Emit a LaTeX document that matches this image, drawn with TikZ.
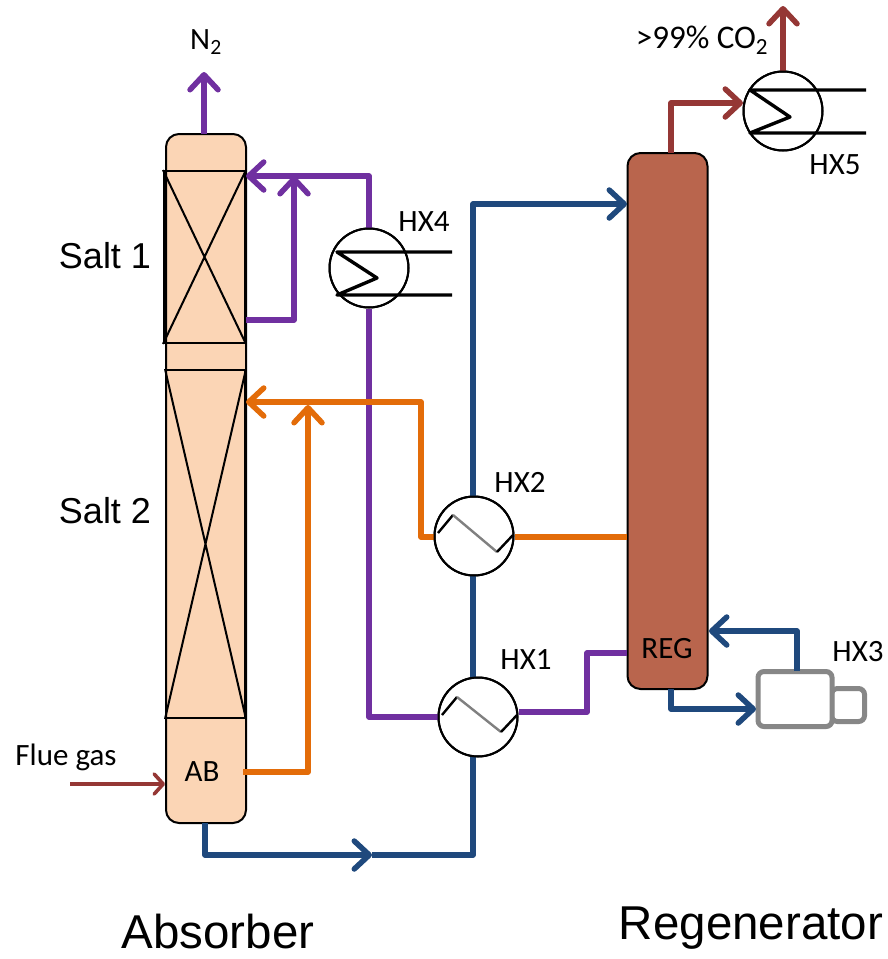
\documentclass[tikz,border=0pt]{standalone}
\usepackage{fontspec}
\setmainfont{Carlito}
\newfontfamily\bigfont{Liberation Sans}
\usetikzlibrary{arrows.meta,calc}
\definecolor{cpurple}{HTML}{7030A0}
\definecolor{corange}{HTML}{E36C09}
\definecolor{cblue}{HTML}{1F497D}
\definecolor{cred}{HTML}{953735}
\definecolor{cabs}{HTML}{FBD5B5}
\definecolor{creg}{HTML}{B9654D}
\tikzset{
  pipe/.style={line width=5.5pt,line join=round},
  tip/.style={-{Straight Barb[length=15pt,width=28pt,line width=5.5pt,round]}},
  hxc/.style={circle,draw=black,line width=2pt,fill=white,minimum size=79pt,inner sep=0pt},
  column/.style={draw=black,line width=2pt,rounded corners=13pt,minimum width=80pt,inner sep=0pt},
  pack/.style={draw=black,line width=2pt,inner sep=0pt},
  coil/.style={line width=3.4pt,black,line join=round},
  zig/.style={line width=2.4pt,black},
  zigm/.style={line width=2.4pt,black!50},
  lab/.style={text=black,inner sep=0pt,font=\fontsize{31}{33}\selectfont},
  biglab/.style={text=black,inner sep=0pt,font=\bigfont\fontsize{47.5}{50}\selectfont},
  midlab/.style={text=black,inner sep=0pt,font=\bigfont\fontsize{36}{38}\selectfont},
  pump/.style={draw=black!47,line width=5pt,rounded corners=6pt,fill=white,inner sep=0pt},
}
\begin{document}
\begin{tikzpicture}[x=1pt,y=-1pt]
\useasboundingbox (0,0) rectangle (887,959);
% columns
\node[column,fill=cabs,minimum height=689pt] (abs) at (206,478.5) {};
\node[column,fill=creg,minimum height=536pt] (reg) at (667.5,421) {};
% packings
\node[pack,minimum width=81pt,minimum height=172pt] (s1) at (204.5,257) {};
\draw[pack] (s1.north west) -- (s1.south east) (s1.north east) -- (s1.south west);
\node[pack,minimum width=79pt,minimum height=348pt] (s2) at (205.5,544) {};
\draw[pack] (s2.north west) -- (s2.south east) (s2.north east) -- (s2.south west);
% exchangers
\node[hxc] (hx4) at (369,268) {};
\node[hxc] (hx5) at (783,111) {};
\node[hxc] (hx2) at (474,536) {};
\node[hxc] (hx1) at (478,717) {};
% attachment points
\coordinate (absn) at (204,134);
\coordinate (n2top) at (204,72);
\coordinate (abs176) at (246,176);
\coordinate (abs320) at (246,320);
\coordinate (abs402) at (246,402);
\coordinate (abot) at (205,823);
\coordinate (abo) at (243,772);
\coordinate (flue) at (70,784);
\coordinate (fluee) at (165,784);
\coordinate (mid) at (372,855);
\coordinate (reg204) at (627,204);
\coordinate (reg537) at (627,537);
\coordinate (reg653) at (627,653);
\coordinate (regtop) at (671,153);
\coordinate (regbot) at (671,689);
\coordinate (reg631) at (709,631);
\coordinate (co2top) at (783,6);
\coordinate (hx5in) at (743,103);
\coordinate (hx3in) at (756,709);
% HX3
\node[pump,minimum width=33pt,minimum height=33pt] (hx3b) at (848,705) {};
\node[pump,minimum width=74pt,minimum height=55pt] (hx3) at (795,699) {};
% purple
\draw[pipe,cpurple,tip] (absn) -- (n2top);
\draw[pipe,cpurple,tip] (hx4.north) -- (369,176) -- (abs176);
\draw[pipe,cpurple,tip] (abs320) -- (294,320) -- (294,176);
\draw[pipe,cpurple] (hx4.south) -- (369,717) -- (hx1.west);
\draw[pipe,cpurple] (hx1.east |- 0,712) -- (587,712) -- (587,653) -- (reg653);
% orange
\draw[pipe,corange] (reg537) -- (hx2.east |- reg537);
\draw[pipe,corange,tip] (hx2.west |- reg537) -- (421,537) -- (421,402) -- (abs402);
\draw[pipe,corange,tip] (abo) -- (308,772) -- (308,405);
% blue
\draw[pipe,cblue,tip] (abot) -- (205,855) -- (mid);
\draw[pipe,cblue] (mid) -- (473,855) -- (473,756);
\draw[pipe,cblue] (473,678) -- (473,575);
\draw[pipe,cblue,tip] (473,497) -- (473,204) -- (reg204);
\draw[pipe,cblue,tip] (regbot) -- (671,709) -- (hx3in);
\draw[pipe,cblue,tip] (797,671) -- (797,631) -- (reg631);
% red
\draw[pipe,cred,tip] (regtop) -- (671,103) -- (hx5in);
\draw[pipe,cred,tip] (hx5.north) -- (co2top);
\draw[line width=3.6pt,cred,-{Straight Barb[length=9pt,width=20pt,line width=3.6pt,round]}] (flue) -- (fluee);
% redraw exchanger outlines above pipe ends
\draw[line width=2pt] (hx4) circle (39.5pt) (hx5) circle (39.5pt) (hx2) circle (39.5pt) (hx1) circle (39.5pt);
% coils
\draw[coil] (452,252) -- (337,252) -- (377,278) -- (337,295) -- (452,295);
\draw[coil] (866,90) -- (750,90) -- (790,117) -- (750,133) -- (866,133);
\draw[zig] (438,533) -- (453,515);
\draw[zigm] (453,515) -- (497,552);
\draw[zig] (497,552) -- (513,535);
\draw[zig] (442,715) -- (457,697);
\draw[zigm] (457,697) -- (501,732);
\draw[zig] (501,732) -- (517,715);
% labels
\node[lab] (ln2) at (206,42) {N\textsubscript{2}};
\node[lab,font=\fontsize{33}{35}\selectfont] (lco2) at (702,40) {>99\% CO\textsubscript{2}};
\node[lab] (lhx5) at (835,165) {HX5};
\node[lab] (lhx4) at (424,222) {HX4};
\node[lab] (lhx2) at (520,482) {HX2};
\node[lab] (lhx1) at (526,660) {HX1};
\node[lab] (lhx3) at (858,652) {HX3};
\node[lab] (lreg) at (667,649) {REG};
\node[lab] (lab) at (202,772) {AB};
\node[lab] (lflue) at (66,757) {Flue gas};
\node[midlab] (ls1) at (105,256) {Salt 1};
\node[midlab] (ls2) at (105,511) {Salt 2};
\node[biglab] (labs) at (218,932) {Absorber};
\node[biglab] (lreg2) at (751,928) {Regenerator};
\end{tikzpicture}
\end{document}
